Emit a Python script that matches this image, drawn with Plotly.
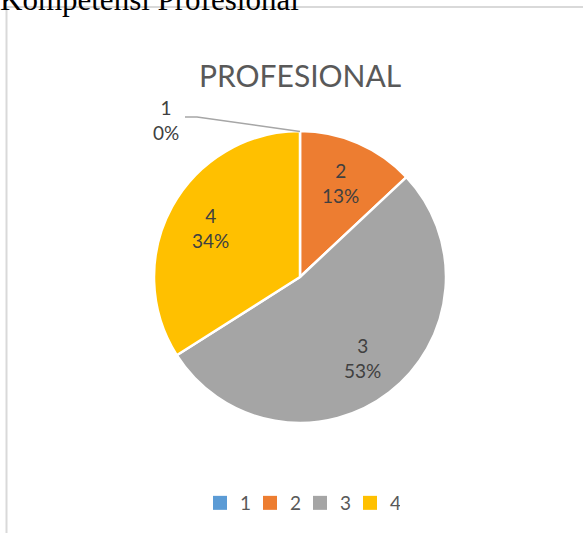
import math
import plotly.graph_objects as go

labels = ["1", "2", "3", "4"]
values = [0, 13, 53, 34]
colors = ["#5B9BD5", "#ED7D31", "#A5A5A5", "#FFC000"]
chart_title = "PROFESIONAL"
doc_heading = "Kompetensi Profesional"

W, H = 583, 533
CX, CY, R = 300, 277, 146  # pie centre / radius in px (layout)

def px(x):
    return x / W

def py(y):
    return 1 - y / H

fig = go.Figure()
fig.add_trace(go.Pie(
    labels=labels,
    values=values,
    sort=False,
    direction="clockwise",
    rotation=0,
    marker=dict(colors=colors, line=dict(color="white", width=2.5)),
    textinfo="none",
    domain=dict(x=[px(CX - R), px(CX + R)], y=[py(CY + R), py(CY - R)]),
    hoverinfo="label+percent",
    showlegend=False,
))

# legend entries
for lab, col in zip(labels, colors):
    fig.add_trace(go.Scatter(x=[None], y=[None], mode="markers", name=lab,
                             marker=dict(symbol="square", size=14, color=col),
                             showlegend=True, hoverinfo="skip"))

label_font = dict(family="Lato", size=19, color="#404040")
annotations = []
total = sum(values)
cum = 0
for lab, v in zip(labels, values):
    frac = v / total
    mid = cum + frac / 2
    cum += frac
    if v == 0:
        continue
    ang = 2 * math.pi * mid
    lx = CX + 0.7 * R * math.sin(ang)
    ly = CY - 0.7 * R * math.cos(ang)
    annotations.append(dict(text=f"{lab}<br>{round(frac * 100)}%", x=px(lx), y=py(ly),
                            xref="paper", yref="paper", showarrow=False, font=label_font,
                            xanchor="center", yanchor="middle"))

# zero-slice label outside with leader line
annotations.append(dict(text=f"{labels[0]}<br>{round(values[0] / total * 100)}%", x=px(166), y=py(120),
                        xref="paper", yref="paper", showarrow=False, font=label_font,
                        xanchor="center", yanchor="middle"))
fig.add_shape(type="path", xref="paper", yref="paper",
              path=f"M {px(185)} {py(117)} L {px(197)} {py(117)} L {px(CX)} {py(CY - R + 0.5)}",
              line=dict(color="#a6a6a6", width=1.5))

# border of chart area
fig.add_shape(type="line", xref="paper", yref="paper", x0=px(6.5), x1=1, y0=py(7), y1=py(7),
              line=dict(color="#d9d9d9", width=2))
fig.add_shape(type="line", xref="paper", yref="paper", x0=px(6.5), x1=px(6.5), y0=0, y1=py(7),
              line=dict(color="#d9d9d9", width=2))

annotations += [
    dict(text=chart_title, x=px(CX), y=py(75), xref="paper", yref="paper", showarrow=False,
         font=dict(family="Lato", size=30, color="#595959"), xanchor="center", yanchor="middle"),
    dict(text=doc_heading, x=px(-2), y=py(19), xref="paper", yref="paper", showarrow=False,
         font=dict(family="Liberation Serif", size=31, color="#000000"), xanchor="left", yanchor="bottom"),
]

fig.update_layout(
    width=W, height=H,
    margin=dict(l=0, r=0, t=0, b=0),
    paper_bgcolor="white",
    plot_bgcolor="white",
    xaxis=dict(visible=False),
    yaxis=dict(visible=False),
    showlegend=True,
    legend=dict(orientation="h", x=px(CX), xanchor="center", y=py(503), yanchor="middle",
                font=dict(family="Lato", size=19, color="#595959"), traceorder="normal",
                itemsizing="trace", entrywidth=5, itemclick=False),
    annotations=annotations,
)

fig.write_html("out.html", config={"displayModeBar": False},
               post_script="document.body.style.margin='0';")
